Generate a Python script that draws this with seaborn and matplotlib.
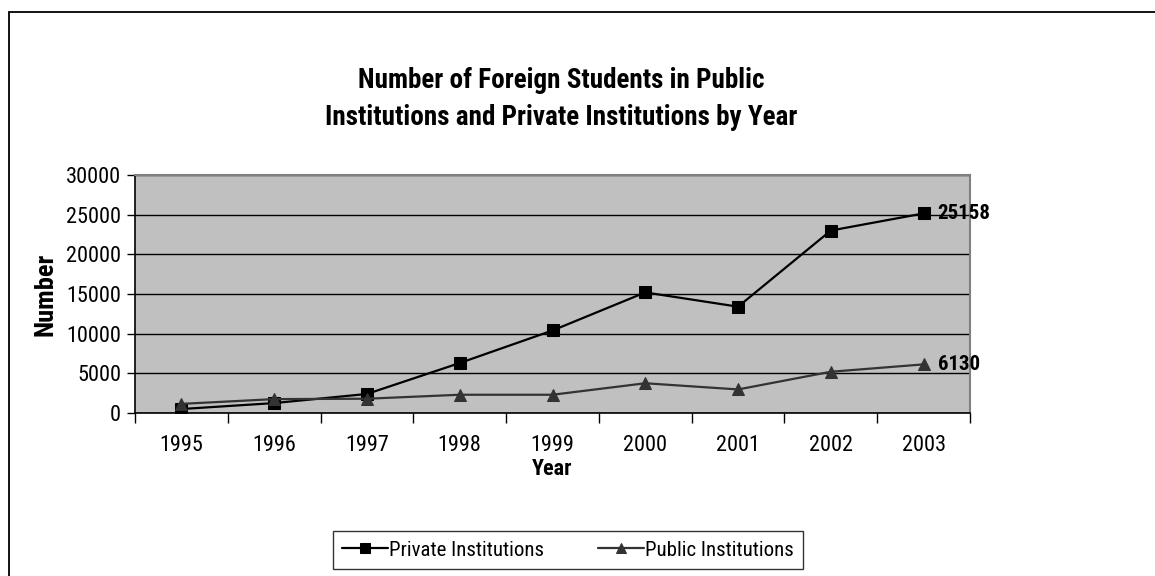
import matplotlib
matplotlib.use("Agg")
import matplotlib.pyplot as plt
from matplotlib.patches import Rectangle
import seaborn as sns
import pandas as pd
import numpy as np

years = [1995, 1996, 1997, 1998, 1999, 2000, 2001, 2002, 2003]
private = [500, 1250, 2400, 6300, 10400, 15200, 13400, 23000, 25158]
public = [1150, 1750, 1800, 2300, 2300, 3750, 2970, 5200, 6130]
series_names = ["Private Institutions", "Public Institutions"]
y_ticks = [0, 5000, 10000, 15000, 20000, 25000, 30000]

sns.set_theme(style="white")
plt.rcParams["font.family"] = ["Roboto Condensed", "Liberation Sans", "DejaVu Sans"]
plt.rcParams["text.color"] = "black"
plt.rcParams["axes.labelcolor"] = "black"
plt.rcParams["xtick.color"] = "black"
plt.rcParams["ytick.color"] = "black"

df = pd.DataFrame({
    "Year": years * 2,
    "Number": private + public,
    "Series": [series_names[0]] * len(years) + [series_names[1]] * len(years),
})

fig = plt.figure(figsize=(11.55, 5.76), dpi=100)
ax = fig.add_axes([135 / 1155, 1 - 413 / 576, (970 - 135) / 1155, (413 - 175) / 576])
ax.set_facecolor("#C0C0C0")

# outer chart frame
fig.patches.append(Rectangle((9 / 1155, -0.1), 1.2, 1 - 12 / 576 + 0.1,
                             transform=fig.transFigure, fill=False,
                             edgecolor="black", linewidth=1.3))

sns.lineplot(data=df[df.Series == series_names[0]], x="Year", y="Number", ax=ax,
             color="black", marker="s", markersize=8, markeredgecolor="black",
             linewidth=1.6, label=series_names[0])
sns.lineplot(data=df[df.Series == series_names[1]], x="Year", y="Number", ax=ax,
             color="#333333", marker="^", markersize=9, markeredgecolor="#333333",
             linewidth=1.6, label=series_names[1])

ax.set_xlim(years[0] - 0.5, years[-1] + 0.5)
ax.set_ylim(0, 30000)
ax.set_yticks(y_ticks)
ax.set_yticklabels([str(t) for t in y_ticks], fontsize=16)
ax.yaxis.grid(True, color="black", linewidth=1)
ax.set_axisbelow(True)

# tick marks between categories, labels centred on categories
ax.set_xticks(np.arange(years[0] - 0.5, years[-1] + 1, 1.0))
ax.set_xticklabels([])
ax.set_xticks(years, minor=True)
ax.set_xticklabels([str(y) for y in years], minor=True, fontsize=16)
ax.tick_params(axis="x", which="major", direction="out", length=7, width=1, color="black", bottom=True)
ax.tick_params(axis="x", which="minor", length=0, pad=16)
ax.tick_params(axis="y", direction="out", length=6, width=1, color="black", left=True, pad=4)

for side in ["left", "bottom"]:
    ax.spines[side].set_color("black")
    ax.spines[side].set_linewidth(1.2)
for side in ["top", "right"]:
    ax.spines[side].set_color("#808080")
    ax.spines[side].set_linewidth(1.5)

ax.set_xlabel("Year", fontsize=16, fontweight="bold", labelpad=1)
ax.set_ylabel("Number", fontsize=19, fontweight="bold", labelpad=6)

ax.annotate(str(private[-1]), (years[-1], private[-1]), xytext=(10, 0),
            textcoords="offset points", va="center", ha="left",
            fontsize=15, fontweight="bold", annotation_clip=False)
ax.annotate(str(public[-1]), (years[-1], public[-1]), xytext=(10, 0),
            textcoords="offset points", va="center", ha="left",
            fontsize=15, fontweight="bold", annotation_clip=False)

fig.text(561 / 1155, 1 - 99 / 576,
         "Number of Foreign Students in Public\nInstitutions and Private Institutions by Year",
         ha="center", va="center", fontsize=19.5, fontweight="bold", linespacing=1.45)

ax.get_legend().remove()
handles, labels = ax.get_legend_handles_labels()
leg = fig.legend(handles, labels, loc="center", bbox_to_anchor=(568 / 1155, 1 - 550 / 576),
                 ncol=2, fontsize=15, frameon=True, fancybox=False, edgecolor="black",
                 handlelength=2.2, handletextpad=0.05, columnspacing=2.6,
                 borderpad=0.45, markerscale=0.85)
leg.get_frame().set_linewidth(1.0)

fig.savefig("out.png", dpi=100, facecolor="white")
